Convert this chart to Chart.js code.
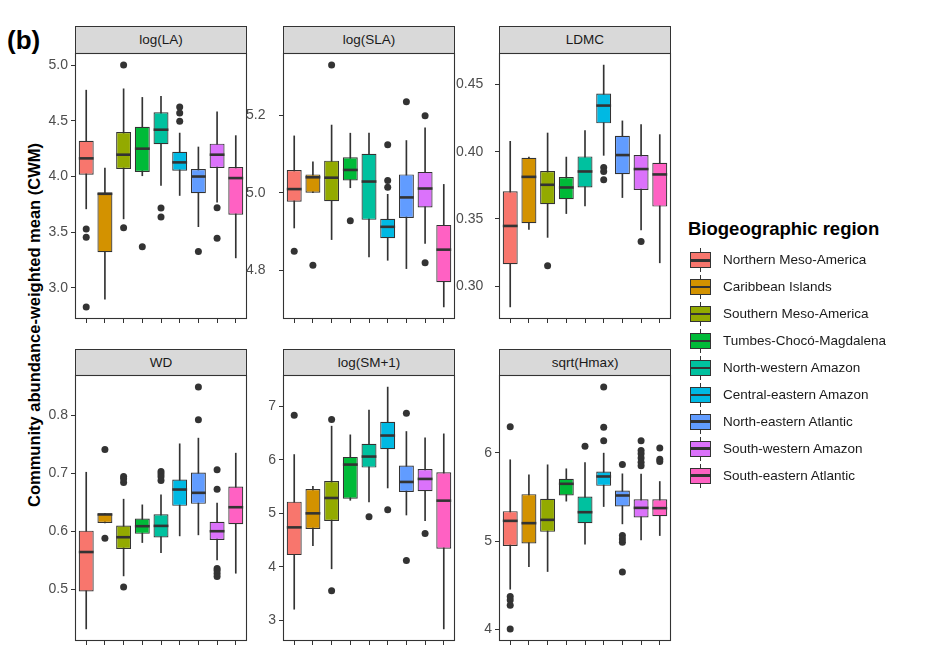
<!DOCTYPE html>
<html>
<head>
<meta charset="utf-8">
<script src="https://cdn.jsdelivr.net/npm/chart.js@4.4.0/dist/chart.umd.min.js"></script>
<style>
  body { margin: 0; background: #fff; font-family: "Liberation Sans", Arial, sans-serif; }
  #fig { position: relative; width: 933px; height: 662px; overflow: hidden; background: #fff; }
  #fig canvas { position: absolute; left: 0; top: 0; }
  .strip { position: absolute; box-sizing: border-box; background: #d9d9d9; border: 1px solid #333;
           text-align: center; font-size: 13.5px; line-height: 26px; color: #1a1a1a; }
  .tag { position: absolute; left: 7px; top: 25px; font-size: 26px; font-weight: bold; color: #000; }
  .ytitle { position: absolute; left: -165.7px; top: 315px; width: 400px; height: 20px; line-height: 20px;
            text-align: center; font-size: 16.5px; font-weight: bold; color: #000; transform: rotate(-90deg); white-space: nowrap; }
  .ltitle { position: absolute; left: 688px; top: 219px; font-size: 18.5px; line-height: 20px; font-weight: bold; color: #000; white-space: nowrap; }
  .lkey { position: absolute; width: 21px; height: 24px; }
  .lkey .wh { position: absolute; left: 10px; top: 0; width: 1px; height: 24px; background: #333; }
  .lkey .bx { position: absolute; left: 0; top: 4px; width: 21px; height: 16px; box-sizing: border-box; border: 1.2px solid #333; }
  .lkey .md { position: absolute; left: 0; top: 10.8px; width: 21px; height: 2.5px; background: #333; }
  .llab { position: absolute; left: 723px; font-size: 13.5px; line-height: 18px; color: #1a1a1a; white-space: nowrap; }
</style>
</head>
<body>
<div id="fig">
  <div class="tag">(b)</div>
  <div class="ytitle">Community abundance-weighted mean (CWM)</div>
  <div class="ltitle">Biogeographic region</div>
</div>
<script>
const FONT = '"Liberation Sans", Arial, sans-serif';

const regions = ['Northern Meso-America', 'Caribbean Islands', 'Southern Meso-America',
  'Tumbes-Chocó-Magdalena', 'North-western Amazon', 'Central-eastern Amazon',
  'North-eastern Atlantic', 'South-western Amazon', 'South-eastern Atlantic'];
const palette = ['#F8766D', '#D39200', '#93AA00', '#00BA38', '#00C19F', '#00B9E3', '#619CFF', '#DB72FB', '#FF61C3'];

// [lower whisker, Q1, median, Q3, upper whisker] per region
const logLA = [
  [3.71, 4.017, 4.163, 4.32, 4.775],
  [2.90, 3.32, 3.845, 3.857, 4.076],
  [3.62, 4.067, 4.196, 4.40, 4.787],
  [4.007, 4.04, 4.25, 4.446, 4.71],
  [3.92, 4.29, 4.42, 4.577, 4.72],
  [3.83, 4.052, 4.127, 4.223, 4.39],
  [3.55, 3.85, 4.0, 4.067, 4.265],
  [3.77, 4.076, 4.196, 4.295, 4.58],
  [3.27, 3.657, 3.986, 4.085, 4.367]
];
const logLAOut = [[3.53, 3.456, 2.83], [], [5.0, 3.54], [3.37], [3.717, 3.636], [4.625, 4.57, 4.497], [3.327], [3.72, 3.447], []];
const logLATicks = [3.0, 3.5, 4.0, 4.5, 5.0];

const logSLA = [
  [4.909, 4.977, 5.0095, 5.059, 5.147],
  [5.0, 5.0, 5.04, 5.0475, 5.08],
  [4.879, 4.978, 5.039, 5.083, 5.175],
  [5.013, 5.032, 5.059, 5.092, 5.154],
  [4.834, 4.93, 5.029, 5.101, 5.154],
  [4.8255, 4.8825, 4.912, 4.933, 4.996],
  [4.804, 4.935, 4.988, 5.0475, 5.135],
  [4.869, 4.962, 5.011, 5.054, 5.168],
  [4.705, 4.769, 4.853, 4.917, 5.0216]
];
const logSLAOut = [[4.849], [4.8125], [5.33], [4.928], [], [5.124, 5.032, 5.014], [5.235], [5.199, 4.819], []];
const logSLATicks = [4.8, 5.0, 5.2];

const ldmc = [
  [0.2846, 0.3164, 0.3448, 0.3706, 0.4077],
  [0.3423, 0.3468, 0.3813, 0.3955, 0.396],
  [0.3363, 0.361, 0.3754, 0.3856, 0.4139],
  [0.354, 0.3647, 0.3734, 0.3811, 0.396],
  [0.3597, 0.3734, 0.3853, 0.3965, 0.4157],
  [0.3973, 0.4211, 0.4343, 0.4433, 0.4644],
  [0.3659, 0.3833, 0.3975, 0.4119, 0.4229],
  [0.3418, 0.3716, 0.3871, 0.3975, 0.4201],
  [0.3174, 0.3592, 0.3831, 0.3918, 0.4127]
];
const ldmcOut = [[], [], [0.3152], [], [], [0.3883, 0.3853, 0.3791], [], [0.3333], []];
const ldmcTicks = [0.30, 0.35, 0.40, 0.45];

const wd = [
  [0.431, 0.4956, 0.564, 0.601, 0.702],
  [0.6144, 0.6144, 0.629, 0.6306, 0.6306],
  [0.5227, 0.5694, 0.5896, 0.6098, 0.6554],
  [0.5804, 0.5954, 0.6087, 0.6219, 0.6456],
  [0.563, 0.589, 0.6092, 0.6294, 0.6629],
  [0.5919, 0.6439, 0.6721, 0.6894, 0.7512],
  [0.5937, 0.6473, 0.6664, 0.7016, 0.761],
  [0.5504, 0.585, 0.60, 0.6162, 0.6485],
  [0.5273, 0.6121, 0.6415, 0.6773, 0.735]
];
const wdOut = [[], [0.7414, 0.588], [0.6946, 0.6906, 0.6842, 0.5036], [], [0.7033, 0.699, 0.694, 0.6877], [],
  [0.8493, 0.7927], [0.7062, 0.6727, 0.5354, 0.532, 0.527, 0.5215], []];
const wdTicks = [0.5, 0.6, 0.7, 0.8];

const logSM = [
  [3.206, 4.219, 4.7375, 5.219, 6.1],
  [4.394, 4.706, 5.0, 5.456, 5.506],
  [3.9625, 4.856, 5.2875, 5.606, 6.631],
  [5.244, 5.275, 5.9125, 6.056, 6.469],
  [5.2125, 5.856, 6.0625, 6.3, 6.931],
  [5.475, 6.2, 6.456, 6.7125, 7.3625],
  [4.969, 5.4, 5.5875, 5.894, 6.531],
  [4.8625, 5.4125, 5.644, 5.831, 6.4125],
  [2.8375, 4.3375, 5.2375, 5.769, 6.4875]
];
const logSMOut = [[6.8375], [], [6.756, 3.55], [], [4.9375], [5.069], [6.875, 4.119], [4.625], []];
const logSMTicks = [3, 4, 5, 6, 7];

const hmax = [
  [4.457, 4.947, 5.23, 5.34, 5.921],
  [4.713, 4.974, 5.204, 5.532, 5.751],
  [4.657, 5.106, 5.2415, 5.479, 5.864],
  [5.453, 5.517, 5.649, 5.706, 5.819],
  [4.966, 5.204, 5.328, 5.506, 5.89],
  [5.392, 5.626, 5.732, 5.789, 5.996],
  [5.196, 5.392, 5.517, 5.574, 5.762],
  [5.015, 5.268, 5.377, 5.475, 5.76],
  [5.064, 5.283, 5.374, 5.475, 5.675]
];
const hmaxOut = [[6.294, 4.374, 4.336, 4.275, 4.008], [], [], [], [6.075], [6.743, 6.29, 6.136],
  [5.868, 5.064, 5.026, 4.989, 4.653], [6.136, 6.026, 5.989, 5.94, 5.894, 5.853], [6.053, 5.928, 5.902]];
const hmaxTicks = [4, 5, 6];

const panels = [
  { title: 'log(LA)', boxes: logLA, out: logLAOut, ticks: logLATicks, dec: 1 },
  { title: 'log(SLA)', boxes: logSLA, out: logSLAOut, ticks: logSLATicks, dec: 1 },
  { title: 'LDMC', boxes: ldmc, out: ldmcOut, ticks: ldmcTicks, dec: 2 },
  { title: 'WD', boxes: wd, out: wdOut, ticks: wdTicks, dec: 1 },
  { title: 'log(SM+1)', boxes: logSM, out: logSMOut, ticks: logSMTicks, dec: 0 },
  { title: 'sqrt(Hmax)', boxes: hmax, out: hmaxOut, ticks: hmaxTicks, dec: 0 }
];

// layout of the facet grid (pixels)
const colLeft = [75, 283, 499];
const stripTop = [26, 349];
const areaTop = [53, 375];
const PANEL_W = 172, PANEL_H = 266, YAXIS_W = 40, XAXIS_H = 6;
// in the top row of columns 2 and 3 the tick labels sit flush left in the axis gap
const yLabelLeft = [null, 246, 456, null, null, null];

const fig = document.getElementById('fig');

// panel border drawn over the plot area, like panel.border in ggplot
const frame = {
  id: 'frame',
  afterDraw(chart) {
    const { ctx, chartArea: a } = chart;
    ctx.save();
    ctx.strokeStyle = '#333';
    ctx.lineWidth = 1.1;
    ctx.strokeRect(a.left + 0.5, a.top + 0.5, a.width - 1, a.height - 1);
    ctx.restore();
  }
};

function drawPanel(p, idx) {
  const col = idx % 3, row = Math.floor(idx / 3);
  const left = colLeft[col], top = areaTop[row];
  const flushLeft = yLabelLeft[idx] !== null;
  const axisW = flushLeft ? left - yLabelLeft[idx] : YAXIS_W;

  const strip = document.createElement('div');
  strip.className = 'strip';
  strip.style.left = left + 'px';
  strip.style.top = stripTop[row] + 'px';
  strip.style.width = PANEL_W + 'px';
  strip.style.height = (top - stripTop[row] + 1) + 'px';
  strip.textContent = p.title;
  fig.appendChild(strip);

  const canvas = document.createElement('canvas');
  canvas.width = 933;
  canvas.height = 662;
  fig.appendChild(canvas);

  // ggplot-style 5% expansion of the data range
  const all = p.boxes.flat().concat(p.out.flat());
  const lo = Math.min(...all), hi = Math.max(...all);
  const pad = (hi - lo) * 0.05;

  const outliers = [];
  p.out.forEach((vals, i) => vals.forEach(v => outliers.push({ x: i, y: v })));

  new Chart(canvas, {
    type: 'bar',
    data: {
      datasets: [
        {
          type: 'bar',
          data: p.boxes.map((b, i) => ({ x: i, y: [b[0], b[4]] })),
          backgroundColor: '#333',
          barThickness: 1,
          grouped: false,
          order: 3
        },
        {
          type: 'bar',
          data: p.boxes.map((b, i) => ({ x: i, y: [b[1], b[3]] })),
          backgroundColor: palette,
          borderColor: '#333',
          borderWidth: 1.2,
          borderSkipped: false,
          barPercentage: 0.8,
          categoryPercentage: 1,
          grouped: false,
          order: 2
        },
        {
          type: 'scatter',
          data: outliers,
          pointRadius: 3.5,
          pointBackgroundColor: '#333',
          pointBorderWidth: 0,
          order: 1
        },
        {
          type: 'scatter',
          data: p.boxes.map((b, i) => ({ x: i, y: b[2] })),
          pointStyle: 'line',
          pointRadius: 7.4,
          pointBorderColor: '#333',
          pointBorderWidth: 2.6,
          order: 0
        }
      ]
    },
    options: {
      responsive: false,
      animation: false,
      layout: {
        padding: {
          left: left - axisW,
          top: top,
          right: 933 - left - PANEL_W,
          bottom: 662 - top - PANEL_H - XAXIS_H
        }
      },
      plugins: { legend: { display: false }, tooltip: { enabled: false } },
      scales: {
        x: {
          type: 'linear',
          min: -0.6,
          max: 8.6,
          offset: false,
          afterBuildTicks: s => { s.ticks = regions.map((r, i) => ({ value: i })); },
          afterFit: s => { s.height = XAXIS_H; },
          ticks: { display: false },
          grid: { offset: false, drawOnChartArea: false, drawTicks: true, tickLength: 4, color: '#333' },
          border: { display: false }
        },
        y: {
          min: lo - pad,
          max: hi + pad,
          afterBuildTicks: s => { s.ticks = p.ticks.map(v => ({ value: v })); },
          afterFit: s => { s.width = axisW; },
          ticks: {
            color: '#4d4d4d',
            padding: 3,
            crossAlign: flushLeft ? 'far' : 'near',
            font: { family: FONT, size: 14 },
            callback: v => Number(v).toFixed(p.dec)
          },
          grid: { drawOnChartArea: false, drawTicks: true, tickLength: 4, color: '#333' },
          border: { display: false }
        }
      }
    },
    plugins: [frame]
  });
}

panels.forEach(drawPanel);

// legend
regions.forEach((name, i) => {
  const cy = 260.3 + i * 26.9;
  const key = document.createElement('div');
  key.className = 'lkey';
  key.style.left = '690px';
  key.style.top = (cy - 12) + 'px';
  key.innerHTML = '<div class="wh"></div><div class="bx" style="background:' + palette[i] + '"></div><div class="md"></div>';
  fig.appendChild(key);

  const lab = document.createElement('div');
  lab.className = 'llab';
  lab.style.top = (cy - 9) + 'px';
  lab.textContent = name;
  fig.appendChild(lab);
});
</script>
</body>
</html>
